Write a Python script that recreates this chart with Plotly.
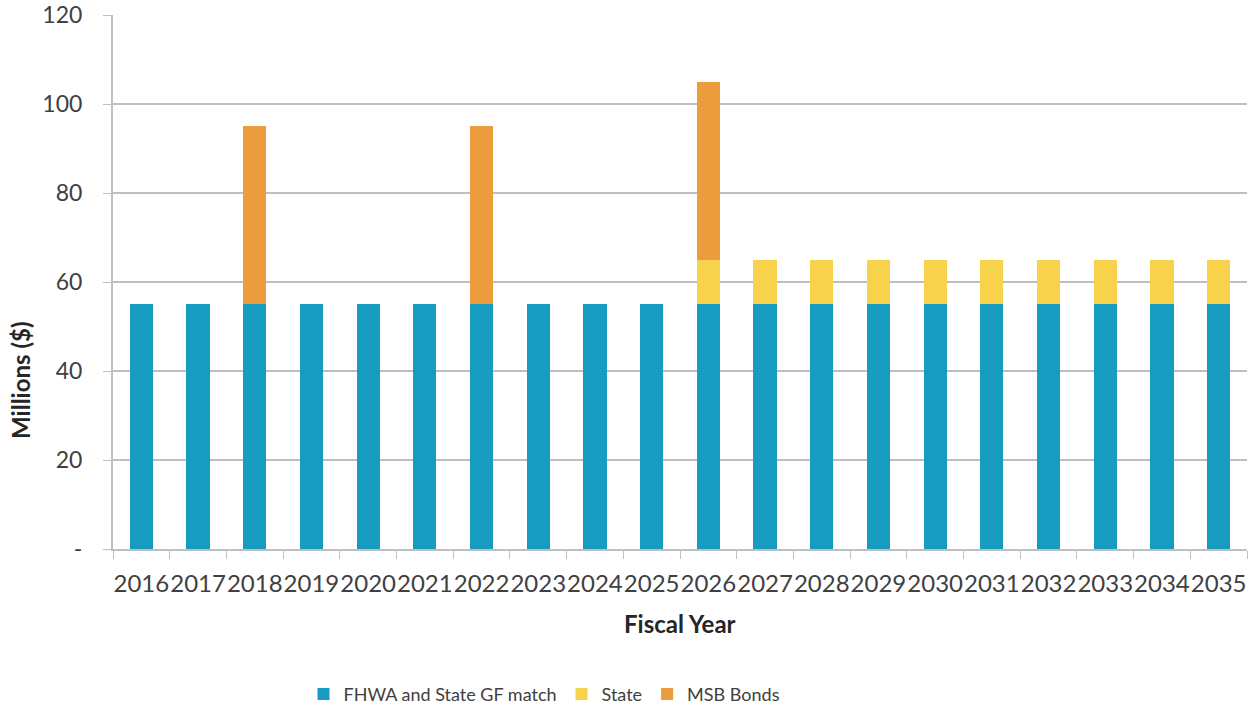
import plotly.graph_objects as go

years = [str(y) for y in range(2016, 2036)]
fhwa = [55, 55, 55, 55, 55, 55, 55, 55, 55, 55, 55, 55, 55, 55, 55, 55, 55, 55, 55, 55]
state = [0, 0, 0, 0, 0, 0, 0, 0, 0, 0, 10, 10, 10, 10, 10, 10, 10, 10, 10, 10]
msb = [0, 0, 40, 0, 0, 0, 40, 0, 0, 0, 40, 0, 0, 0, 0, 0, 0, 0, 0, 0]
y_ticks = [0, 20, 40, 60, 80, 100, 120]
y_tick_text = ["-", "20", "40", "60", "80", "100", "120"]

FONT = "Lato, 'Open Sans', sans-serif"
GRID = "#bfbfbf"

fig = go.Figure()
fig.add_bar(x=years, y=fhwa, name="FHWA and State GF match", marker_color="#179bc1",
            marker_line_width=0)
fig.add_bar(x=years, y=state, name="State", marker_color="#f8d24a", marker_line_width=0)
fig.add_bar(x=years, y=msb, name="MSB Bonds", marker_color="#eb9c3c", marker_line_width=0)

fig.update_layout(
    barmode="stack",
    bargap=0.59,
    width=1258, height=711,
    margin=dict(l=113, r=11, t=15, b=162, autoexpand=False),
    plot_bgcolor="white", paper_bgcolor="white",
    font=dict(family=FONT, color="#404040"),
    showlegend=True,
    legend=dict(orientation="h", x=0.168, xanchor="left", y=-0.272, yanchor="middle",
                font=dict(size=18, color="#404040"), traceorder="normal",
                itemwidth=30, tracegroupgap=0),
)
fig.update_xaxes(
    type="category", tickangle=0, tickfont=dict(size=24, color="#404040"),
    automargin=False,
    showline=True, linecolor=GRID, linewidth=2,
    ticks="outside", ticklen=8, tickcolor=GRID, tickson="boundaries",
    ticklabelstandoff=12,
    showgrid=False,
)
fig.update_yaxes(
    range=[0, 120], tickvals=y_ticks, ticktext=y_tick_text,
    tickfont=dict(size=23, color="#404040"),
    automargin=False,
    showline=True, linecolor=GRID, linewidth=2,
    ticks="outside", ticklen=8, tickcolor=GRID,
    ticklabelstandoff=16,
    showgrid=True, gridcolor=GRID, gridwidth=2,
    zeroline=False,
    title=None,
)
fig.add_annotation(text="<b>Millions ($)</b>", xref="paper", yref="paper",
                   x=-0.081, y=0.315, textangle=-90, showarrow=False,
                   xanchor="center", yanchor="middle",
                   font=dict(size=24, color="#262626"))
fig.add_annotation(text="<b>Fiscal Year</b>", xref="paper", yref="paper",
                   x=0.5, y=-0.14, showarrow=False,
                   xanchor="center", yanchor="middle",
                   font=dict(size=24, color="#262626"))

fig.write_html("out.html")
